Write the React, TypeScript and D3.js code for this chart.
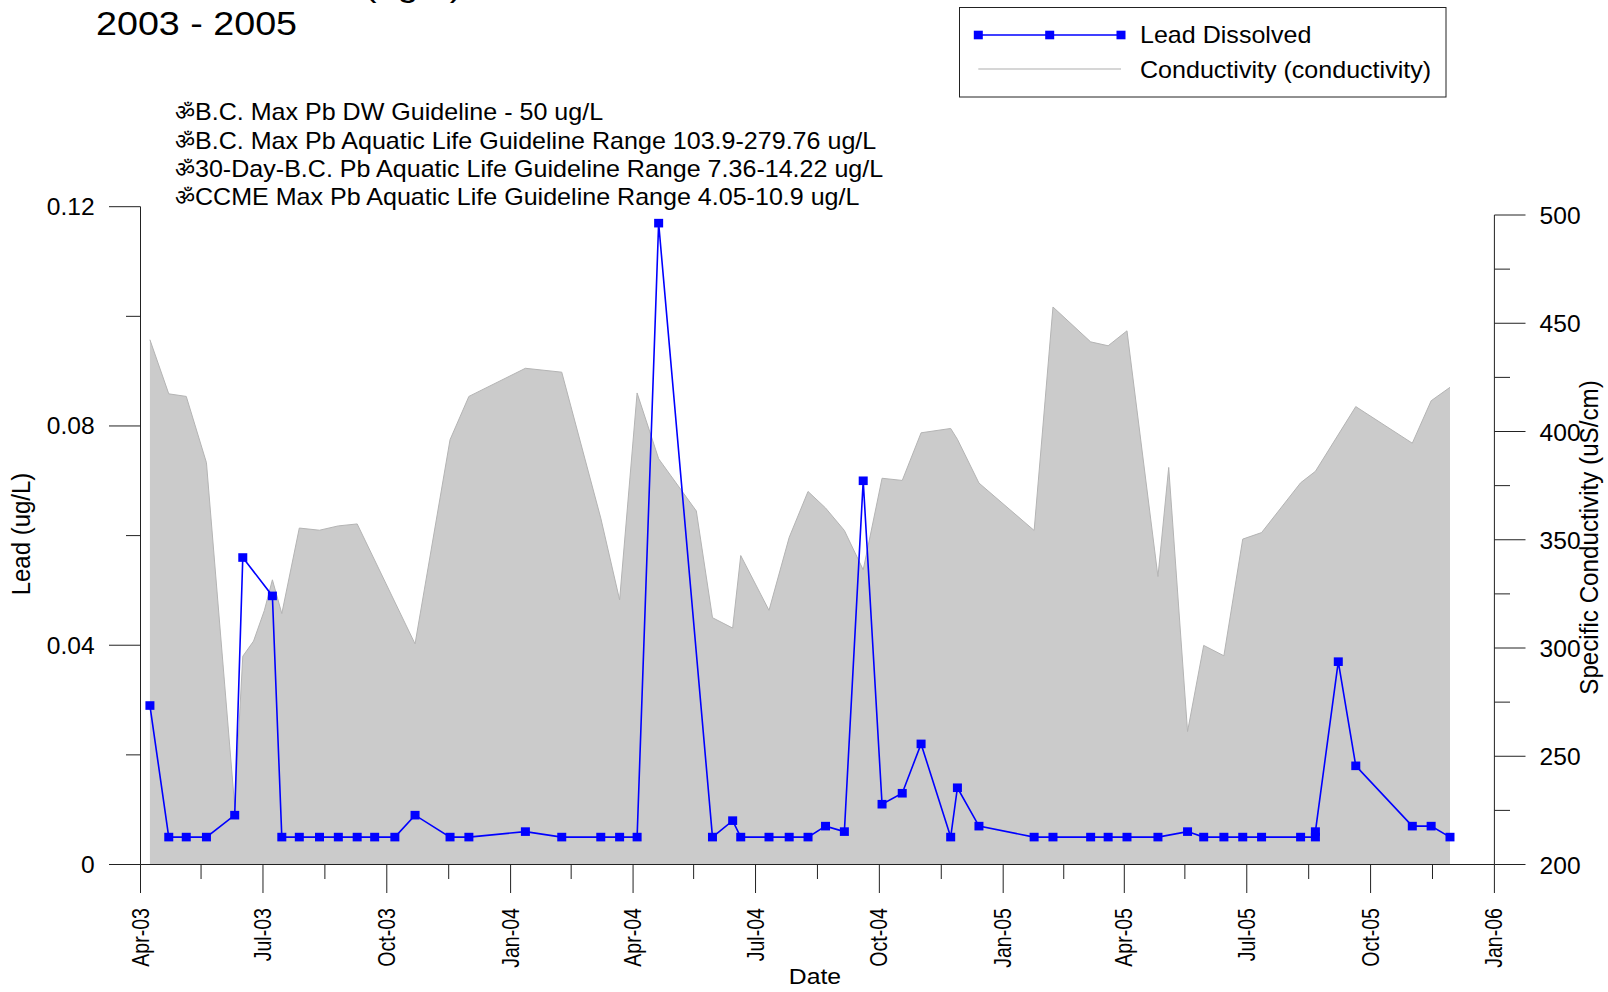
import React from "react";
import * as d3 from "d3";

const leadDates = ["2003-04-08","2003-04-22","2003-05-05","2003-05-20","2003-06-10","2003-06-16","2003-07-08","2003-07-15","2003-07-28","2003-08-12","2003-08-26","2003-09-09","2003-09-22","2003-10-07","2003-10-22","2003-11-17","2003-12-01","2004-01-12","2004-02-08","2004-03-08","2004-03-22","2004-04-04","2004-04-20","2004-05-30","2004-06-14","2004-06-20","2004-07-11","2004-07-26","2004-08-09","2004-08-22","2004-09-05","2004-09-19","2004-10-03","2004-10-18","2004-11-01","2004-11-23","2004-11-28","2004-12-14","2005-01-24","2005-02-07","2005-03-07","2005-03-20","2005-04-03","2005-04-26","2005-05-18","2005-05-30","2005-06-14","2005-06-28","2005-07-12","2005-08-10","2005-08-21","2005-08-21","2005-09-07","2005-09-20","2005-11-01","2005-11-15","2005-11-29"];
const leadValues = [0.029,0.005,0.005,0.005,0.009,0.056,0.049,0.005,0.005,0.005,0.005,0.005,0.005,0.005,0.009,0.005,0.005,0.006,0.005,0.005,0.005,0.005,0.117,0.005,0.008,0.005,0.005,0.005,0.005,0.007,0.006,0.07,0.011,0.013,0.022,0.005,0.014,0.007,0.005,0.005,0.005,0.005,0.005,0.005,0.006,0.005,0.005,0.005,0.005,0.005,0.005,0.006,0.037,0.018,0.007,0.007,0.005];
const condDates = ["2003-04-08","2003-04-22","2003-05-05","2003-05-20","2003-06-10","2003-06-16","2003-06-24","2003-07-02","2003-07-08","2003-07-15","2003-07-28","2003-08-12","2003-08-26","2003-09-09","2003-10-22","2003-11-17","2003-12-01","2004-01-12","2004-02-08","2004-03-08","2004-03-22","2004-04-04","2004-04-20","2004-05-18","2004-05-30","2004-06-14","2004-06-20","2004-07-11","2004-07-26","2004-08-09","2004-08-22","2004-09-05","2004-09-19","2004-10-03","2004-10-18","2004-11-01","2004-11-23","2004-11-28","2004-12-14","2005-01-24","2005-02-07","2005-03-07","2005-03-20","2005-04-03","2005-04-26","2005-05-04","2005-05-18","2005-05-30","2005-06-14","2005-06-28","2005-07-12","2005-08-10","2005-08-21","2005-09-20","2005-11-01","2005-11-15","2005-11-29"];
const condValues = [442.4,417.4,416.2,385.6,226.7,296.2,303.2,317.3,331.5,315.9,355.4,354.4,356.4,357.3,301.9,396.2,416.2,429.2,427.4,360,322.2,417.8,387.4,363.3,314,309.2,342.7,317.4,351.1,372.3,364.7,354.3,336.1,378.4,377.4,399.4,401.4,396.4,376.2,354.3,457.5,441.4,439.6,446.5,333,383.4,261.4,301.2,296.4,350.3,353.3,376.3,381.6,411.5,394.6,414.2,420.4];

const leftMajor = [0, 0.04, 0.08, 0.12];
const leftMinor = [0.02, 0.06, 0.1];
const leftFormat = ["0", "0.04", "0.08", "0.12"];
const rightMajor = [200, 250, 300, 350, 400, 450, 500];
const rightMinor = [225, 275, 325, 375, 425, 475];
const xMajor = ["2003-04-01","2003-07-01","2003-10-01","2004-01-01","2004-04-01","2004-07-01","2004-10-01","2005-01-01","2005-04-01","2005-07-01","2005-10-01","2006-01-01"];
const xMinor = ["2003-05-16","2003-08-16","2003-11-16","2004-02-15","2004-05-16","2004-08-16","2004-11-16","2005-02-15","2005-05-16","2005-08-16","2005-11-16"];
const xLabels = ["Apr-03","Jul-03","Oct-03","Jan-04","Apr-04","Jul-04","Oct-04","Jan-05","Apr-05","Jul-05","Oct-05","Jan-06"];
const notes = [
  "ॐB.C. Max Pb DW Guideline - 50 ug/L",
  "ॐB.C. Max Pb Aquatic Life Guideline Range 103.9-279.76 ug/L",
  "ॐ30-Day-B.C. Pb Aquatic Life Guideline Range 7.36-14.22 ug/L",
  "ॐCCME Max Pb Aquatic Life Guideline Range 4.05-10.9 ug/L",
];
const legendSeries = ["Lead Dissolved", "Conductivity (conductivity)"];

const FONT = "'Liberation Sans', Arial, sans-serif";
const d = (s: string) => new Date(s + "T00:00:00Z");

const x = d3.scaleUtc().domain([d("2003-04-01"), d("2006-01-01")]).range([140.5, 1494.4]);
const yL = d3.scaleLinear().domain([0, 0.12]).range([864.5, 206.7]);
const yR = d3.scaleLinear().domain([200, 500]).range([864.5, 215]);

const T = ({ x: tx, y: ty, size = 23, sx = 1.09, anchor = "start", children }: any) => (
  <text transform={`translate(${tx},${ty}) scale(${sx},1)`} fontSize={size} textAnchor={anchor} fill="#000" fontFamily={FONT}>{children}</text>
);
const V = ({ x: tx, y: ty, size = 24, sy = 1.1, anchor = "middle", children }: any) => (
  <text transform={`translate(${tx},${ty}) rotate(-90) scale(1,${sy})`} fontSize={size} textAnchor={anchor} fill="#000" fontFamily={FONT}>{children}</text>
);

export default function App() {
  const condPts = condDates.map((s, i) => ({ t: d(s), v: condValues[i] }));
  const leadPts = leadDates.map((s, i) => ({ t: d(s), v: leadValues[i] }));
  const area = d3.area<any>().x(p => x(p.t)).y0(yR(200)).y1(p => yR(p.v));
  const topLine = d3.line<any>().x(p => x(p.t)).y(p => yR(p.v));
  const line = d3.line<any>().x(p => x(p.t)).y(p => yL(p.v));
  const axis = "#222";
  return (
    <svg width={1608} height={992} style={{ position: "absolute", left: 0, top: 0, background: "#fff" }}>
      <T x={96} y={-4} size={34} sx={1.108}>Lead Dissolved (ug/L)</T>
      <T x={96} y={35} size={34} sx={1.108}>2003 - 2005</T>

      {notes.map((n, i) => (
        <g key={n}>
          <T x={175} y={120.3 + i * 28.3} size={22} sx={1}>{n.slice(0, 1)}</T>
          <T x={195} y={120.3 + i * 28.3}>{n.slice(1)}</T>
        </g>
      ))}

      <path d={area(condPts) as string} fill="#cbcbcb" />
      <path d={topLine(condPts) as string} fill="none" stroke="#b4b4b4" strokeWidth={1} />
      <path d={line(leadPts) as string} fill="none" stroke="#0000ff" strokeWidth={1.6} />
      {leadPts.map((p, i) => (
        <rect key={i} x={x(p.t) - 4.5} y={yL(p.v) - 4.3} width={9} height={8.6} fill="#0000ff" />
      ))}

      <g stroke={axis} strokeWidth={1} fill="none">
        <line x1={140.5} x2={140.5} y1={206.7} y2={864.5} />
        <line x1={1494.4} x2={1494.4} y1={215} y2={864.5} />
        <line x1={140.5} x2={1494.4} y1={864.5} y2={864.5} />
        {leftMajor.map(v => <line key={v} x1={109} x2={140.5} y1={yL(v)} y2={yL(v)} />)}
        {leftMinor.map(v => <line key={v} x1={126} x2={140.5} y1={yL(v)} y2={yL(v)} />)}
        {rightMajor.map(v => <line key={v} x1={1494.4} x2={1525.5} y1={yR(v)} y2={yR(v)} />)}
        {rightMinor.map(v => <line key={v} x1={1494.4} x2={1510} y1={yR(v)} y2={yR(v)} />)}
        {xMajor.map(s => <line key={s} x1={x(d(s))} x2={x(d(s))} y1={864.5} y2={893} />)}
        {xMinor.map(s => <line key={s} x1={x(d(s))} x2={x(d(s))} y1={864.5} y2={879} />)}
      </g>

      {leftMajor.map((v, i) => <T key={v} x={94.7} y={yL(v) + 8.5} sx={1.07} anchor="end">{leftFormat[i]}</T>)}
      {rightMajor.map(v => <T key={v} x={1539.6} y={yR(v) + 9} sx={1.07}>{v}</T>)}
      {xMajor.map((s, i) => <V key={s} x={x(d(s)) + 8} y={908} size={19.6} sy={1.2} anchor="end">{xLabels[i]}</V>)}

      <T x={815} y={984} anchor="middle" size={22.5} sx={1.1}>Date</T>
      <V x={30} y={534}>Lead (ug/L)</V>
      <V x={1598} y={537.5} size={24.2}>Specific Conductivity (uS/cm)</V>

      <rect x={959.5} y={7.5} width={486.5} height={89.5} fill="#fff" stroke="#222" strokeWidth={1} />
      <line x1={978.3} x2={1121} y1={35} y2={35} stroke="#0000ff" strokeWidth={1.6} />
      {[978.3, 1049.7, 1121].map(px => <rect key={px} x={px - 4.5} y={30.7} width={9} height={8.6} fill="#0000ff" />)}
      <line x1={978.3} x2={1121} y1={69} y2={69} stroke="#c8c8c8" strokeWidth={1.5} />
      <T x={1140} y={42.7}>{legendSeries[0]}</T>
      <T x={1140} y={78}>{legendSeries[1]}</T>
    </svg>
  );
}
